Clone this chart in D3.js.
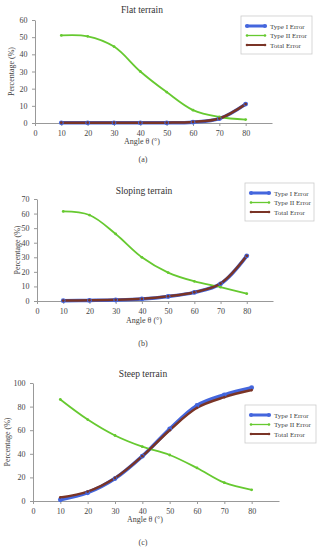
<!DOCTYPE html>
<html>
<head>
<meta charset="utf-8">
<script src="https://cdn.jsdelivr.net/npm/d3@7"></script>
<style>
  body { margin: 0; background: #fff; }
  svg { display: block; font-family: "Liberation Serif", "DejaVu Serif", serif; }
</style>
</head>
<body>
<svg id="chart" width="321" height="550"></svg>
<script>
// Angles (x axis)
const angles = [10, 20, 30, 40, 50, 60, 70, 80];
const seriesNames = ['Type I Error', 'Type II Error', 'Total Error'];

// Flat terrain
const flatType1 = [0.1, 0.1, 0.1, 0.1, 0.1, 0.5, 2.5, 11];
const flatType2 = [51, 50.5, 44.5, 30, 18, 7.5, 3.5, 2];
const flatTotal = [0.2, 0.2, 0.2, 0.2, 0.2, 0.6, 2.6, 11];

// Sloping terrain
const slopeType1 = [0.2, 0.4, 0.7, 1.4, 3.1, 5.9, 11.8, 31];
const slopeType2 = [61.5, 59, 46, 30, 19.5, 13.5, 9.5, 5];
const slopeTotal = [0.3, 0.5, 0.8, 1.5, 3.2, 6, 12, 31];

// Steep terrain
const steepType1 = [1, 7, 19, 38, 61, 81, 90, 96];
const steepType2 = [86, 69, 55.5, 46, 39, 28, 15.5, 9.5];
const steepTotal = [3, 8, 19.5, 38, 60, 79, 88, 94];

const colors = ['#4466dd', '#66c930', '#7a3426'];
const widths = [3.5, 1.8, 2.5];

const svg = d3.select('#chart');

function drawPanel(cfg) {
    const g = svg.append('g');
    const x = d3.scaleLinear().domain([0, 90]).range([cfg.x0, cfg.x1]);
    const y = d3.scaleLinear().domain([0, cfg.ymax]).range([cfg.yBottom, cfg.yTop]);

    // Title
    g.append('text')
        .attr('x', cfg.titleX).attr('y', cfg.titleY)
        .attr('text-anchor', 'middle')
        .style('font-size', '9.5px')
        .style('font-weight', 'normal')
        .attr('fill', '#333')
        .text(cfg.title);

    // Axes
    const xAxis = g.append('g')
        .attr('transform', `translate(0,${cfg.yBottom})`)
        .call(d3.axisBottom(x).tickValues(d3.range(0, 90, 10)).tickSize(3).tickSizeOuter(0));
    const yAxis = g.append('g')
        .attr('transform', `translate(${cfg.x0},0)`)
        .call(d3.axisLeft(y).tickValues(d3.range(0, cfg.ymax + 1, cfg.ystep)).tickSize(3).tickSizeOuter(0));
    [xAxis, yAxis].forEach(a => {
        a.select('.domain').attr('stroke', '#999');
        a.selectAll('.tick line').attr('stroke', '#999');
        a.selectAll('.tick text')
            .attr('fill', '#444')
            .style('font-size', '8px')
            .style('font-family', '"Liberation Serif", serif');
    });
    xAxis.selectAll('.tick text').attr('dy', '0.9em');
    yAxis.selectAll('.tick text').attr('dx', '-0.2em');

    // Axis labels
    g.append('text')
        .attr('x', cfg.xlabX).attr('y', cfg.xlabY)
        .attr('text-anchor', 'middle')
        .style('font-size', '8px')
        .attr('fill', '#444')
        .text('Angle θ (°)');
    g.append('text')
        .attr('transform', `translate(${cfg.ylabX},${(cfg.yTop + cfg.yBottom) / 2}) rotate(-90)`)
        .attr('text-anchor', 'middle')
        .style('font-size', '8px')
        .attr('fill', '#444')
        .text('Percentage (%)');

    // Caption
    g.append('text')
        .attr('x', cfg.capX).attr('y', cfg.capY)
        .attr('text-anchor', 'middle')
        .style('font-size', '8px')
        .attr('fill', '#444')
        .text(cfg.caption);

    // Series
    const line = d3.line()
        .x((d, i) => x(angles[i]))
        .y(d => y(d))
        .curve(d3.curveCatmullRom.alpha(0.5));

    cfg.series.forEach((vals, k) => {
        g.append('path')
            .datum(vals)
            .attr('fill', 'none')
            .attr('stroke', colors[k])
            .attr('stroke-width', widths[k])
            .attr('stroke-linejoin', 'round')
            .attr('d', line);
    });
    cfg.series.forEach((vals, k) => {
        g.selectAll(null)
            .data(vals)
            .enter().append('circle')
            .attr('cx', (d, i) => x(angles[i]))
            .attr('cy', d => y(d))
            .attr('r', k === 0 ? 2.4 : 1.4)
            .attr('fill', colors[k]);
    });

    // Legend
    const lg = g.append('g').attr('transform', `translate(${cfg.legX},${cfg.legY})`);
    lg.append('rect')
        .attr('width', cfg.legW).attr('height', 38)
        .attr('fill', '#fff')
        .attr('stroke', '#ccc')
        .attr('stroke-width', 0.8);
    seriesNames.forEach((name, k) => {
        const yy = 10 + k * 9.5;
        lg.append('line')
            .attr('x1', 6).attr('x2', 24)
            .attr('y1', yy).attr('y2', yy)
            .attr('stroke', colors[k])
            .attr('stroke-width', widths[k] - 0.5);
        [6, 24].forEach(cx => lg.append('circle')
            .attr('cx', cx).attr('cy', yy)
            .attr('r', k === 0 ? 2.1 : 1.3)
            .attr('fill', colors[k]));
        lg.append('text')
            .attr('x', 29).attr('y', yy + 2.6)
            .style('font-size', '7px')
            .attr('fill', '#444')
            .text(name);
    });
}

drawPanel({
    title: 'Flat terrain', titleX: 142, titleY: 13,
    x0: 35, x1: 272, yTop: 20, yBottom: 123, ymax: 60, ystep: 10,
    xlabX: 142, xlabY: 144, ylabX: 14, capX: 143, capY: 162, caption: '(a)',
    legX: 241, legY: 16, legW: 71,
    series: [flatType1, flatType2, flatTotal]
});

drawPanel({
    title: 'Sloping terrain', titleX: 144, titleY: 194,
    x0: 37, x1: 273, yTop: 199, yBottom: 301, ymax: 70, ystep: 10,
    xlabX: 144, xlabY: 323, ylabX: 20, capX: 143, capY: 346, caption: '(b)',
    legX: 245, legY: 183, legW: 69,
    series: [slopeType1, slopeType2, slopeTotal]
});

drawPanel({
    title: 'Steep terrain', titleX: 143, titleY: 377,
    x0: 33, x1: 279, yTop: 383, yBottom: 501, ymax: 100, ystep: 20,
    xlabX: 145, xlabY: 522, ylabX: 10, capX: 143, capY: 545, caption: '(c)',
    legX: 245, legY: 405, legW: 71,
    series: [steepType1, steepType2, steepTotal]
});
</script>
</body>
</html>
